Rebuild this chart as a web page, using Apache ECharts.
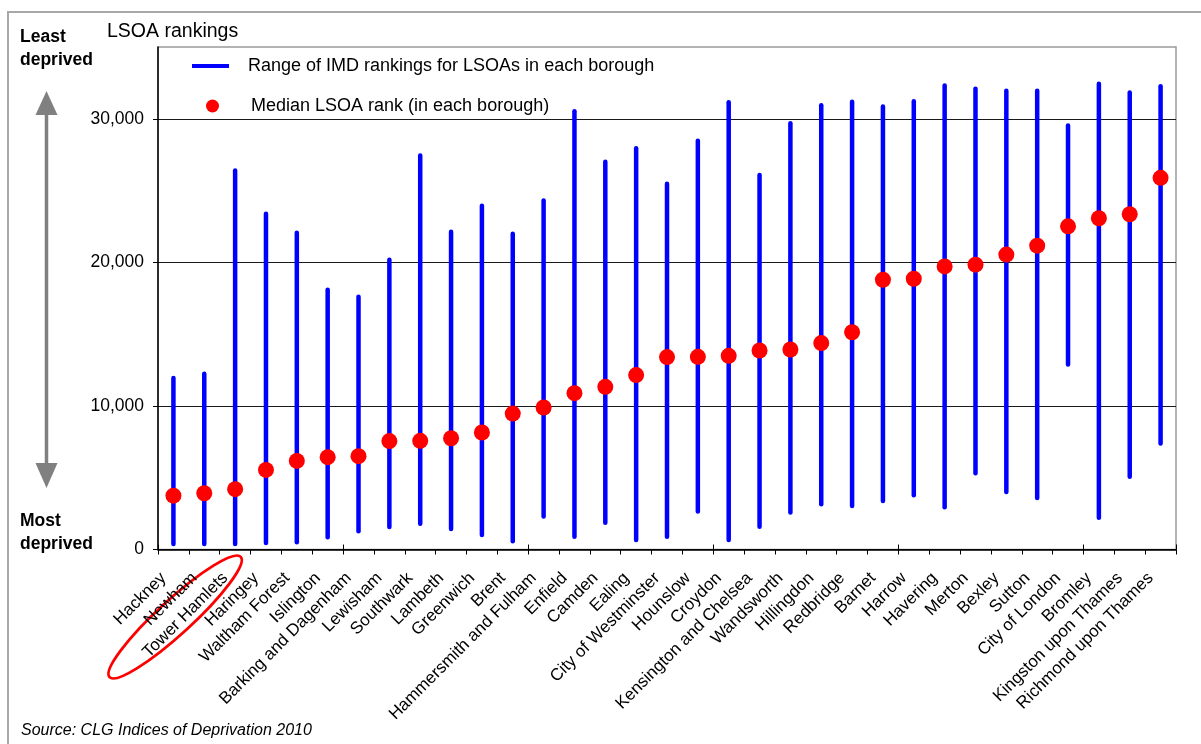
<!DOCTYPE html>
<html>
<head>
<meta charset="utf-8">
<title>LSOA rankings by London borough</title>
<script src="https://cdn.jsdelivr.net/npm/echarts@6/dist/echarts.min.js"></script>
<style>
  html, body { margin: 0; padding: 0; background: #ffffff; }
  #chart { width: 1201px; height: 744px; }
</style>
</head>
<body>
<div id="chart"></div>
<script>
// London boroughs, ordered by median LSOA rank
var boroughs = [
  'Hackney', 'Newham', 'Tower Hamlets', 'Haringey', 'Waltham Forest', 'Islington',
  'Barking and Dagenham', 'Lewisham', 'Southwark', 'Lambeth', 'Greenwich', 'Brent',
  'Hammersmith and Fulham', 'Enfield', 'Camden', 'Ealing', 'City of Westminster',
  'Hounslow', 'Croydon', 'Kensington and Chelsea', 'Wandsworth', 'Hillingdon',
  'Redbridge', 'Barnet', 'Harrow', 'Havering', 'Merton', 'Bexley', 'Sutton',
  'City of London', 'Bromley', 'Kingston upon Thames', 'Richmond upon Thames'
];

// Lowest (most deprived) LSOA rank in each borough
var rankMin = [
  380, 380, 380, 450, 500, 850,
  1270, 1570, 1800, 1430, 1010, 570,
  2290, 890, 1870, 660, 890,
  2640, 660, 1590, 2570, 3150,
  3030, 3380, 3780, 2940, 5310, 4010, 3590,
  12890, 2220, 5060, 7380
];

// Highest (least deprived) LSOA rank in each borough
var rankMax = [
  11940, 12240, 26390, 23380, 22070, 18100,
  17610, 20190, 27440, 22140, 23950, 22000,
  24300, 30530, 27000, 27950, 25470,
  28470, 31160, 26090, 29690, 30950,
  31180, 30860, 31230, 32320, 32090, 31950, 31950,
  29530, 32440, 31830, 32270
];

// Median LSOA rank in each borough
var rankMedian = [
  3750, 3920, 4200, 5540, 6170, 6430,
  6500, 7550, 7570, 7750, 8150, 9470,
  9890, 10890, 11330, 12150, 13400,
  13420, 13490, 13860, 13930, 14380,
  15130, 18790, 18860, 19720, 19840, 20540, 21160,
  22510, 23070, 23350, 25890
];

// Value-axis ticks
var yTicks = [0, 10000, 20000, 30000];

var rangeName = 'Range of IMD rankings for LSOAs in each borough';
var medianName = 'Median LSOA rank (in each borough)';

var FONT = '"Liberation Sans", Arial, sans-serif';
var GREY = '#808080';

var rangeData = boroughs.map(function (b, i) { return [i, rankMin[i], rankMax[i]]; });
var medianData = boroughs.map(function (b, i) { return [i, rankMedian[i]]; });

var chart = echarts.init(document.getElementById('chart'), null, { renderer: 'canvas' });

var option = {
  animation: false,
  backgroundColor: '#ffffff',
  textStyle: { fontFamily: FONT, color: '#000' },
  grid: {
    left: 158, top: 47, width: 1018, height: 502.5,
    show: true, borderColor: '#9a9a9a', borderWidth: 1.5,
    outerBoundsMode: 'none', containLabel: false
  },
  legend: [
    {
      data: [{ name: rangeName, icon: 'rect' }],
      left: 192, top: 57, padding: 0,
      itemWidth: 37, itemHeight: 4,
      textStyle: { fontFamily: FONT, fontSize: 18, color: '#000', padding: [0, 0, 0, 14] },
      selectedMode: false
    },
    {
      data: [{ name: medianName, icon: 'circle' }],
      left: 206, top: 97, padding: 0,
      itemWidth: 13, itemHeight: 13,
      textStyle: { fontFamily: FONT, fontSize: 18, color: '#000', padding: [0, 0, 0, 27] },
      selectedMode: false
    }
  ],
  xAxis: [
    {
      type: 'category',
      data: boroughs,
      position: 'bottom',
      boundaryGap: true,
      axisLine: { show: true, lineStyle: { color: '#000', width: 1.5 } },
      axisTick: { show: true, inside: false, length: 5, lineStyle: { color: '#000', width: 1 } },
      axisLabel: {
        show: true, interval: 0, rotate: 45, margin: 16,
        padding: [0, 14, 0, 0],
        fontFamily: FONT, fontSize: 17, color: '#000'
      },
      splitLine: { show: false }
    },
    {
      type: 'category',
      data: boroughs,
      position: 'bottom',
      boundaryGap: true,
      axisLine: { show: false },
      axisTick: { show: true, inside: true, length: 5, lineStyle: { color: '#000', width: 1 } },
      axisLabel: { show: false },
      splitLine: { show: false }
    }
  ],
  yAxis: {
    type: 'value',
    min: 0, max: 35000, interval: 10000,
    axisLine: { show: true, lineStyle: { color: '#000', width: 1.5 } },
    axisTick: { show: true, length: 5, lineStyle: { color: '#000' }, customValues: yTicks },
    axisLabel: {
      show: true, margin: 14, fontFamily: FONT, fontSize: 17.5, color: '#000',
      customValues: yTicks,
      formatter: function (v) { return v >= 35000 ? '' : Number(v).toLocaleString('en-US'); }
    },
    splitLine: { show: true, lineStyle: { color: '#1a1a1a', width: 1 } }
  },
  series: [
    {
      name: rangeName,
      type: 'custom',
      xAxisIndex: 0,
      data: rangeData,
      encode: { x: 0, y: [1, 2] },
      itemStyle: { color: '#0000FF' },
      z: 3,
      renderItem: function (params, api) {
        var lo = api.coord([api.value(0), api.value(1)]);
        var hi = api.coord([api.value(0), api.value(2)]);
        return {
          type: 'line',
          shape: { x1: lo[0], y1: lo[1], x2: hi[0], y2: hi[1] },
          style: { stroke: '#0000FF', lineWidth: 4.5, lineCap: 'round' }
        };
      }
    },
    {
      name: medianName,
      type: 'scatter',
      xAxisIndex: 0,
      data: medianData,
      symbol: 'circle',
      symbolSize: 16,
      itemStyle: { color: '#FF0000', opacity: 1 },
      z: 4
    }
  ],
  graphic: [
    // outer frame
    {
      type: 'rect', id: 'frame', silent: true,
      shape: { x: 8, y: 12, width: 1200, height: 800 },
      style: { fill: 'none', stroke: '#a8a8a8', lineWidth: 2 }
    },
    {
      type: 'text', id: 'ytitle', left: 107, top: 22,
      style: { text: 'LSOA rankings', font: '19.5px ' + FONT, fill: '#000' }
    },
    {
      type: 'text', id: 'least', left: 20, top: 26,
      style: { text: 'Least\ndeprived', font: 'bold 17.5px ' + FONT, fill: '#000', lineHeight: 23 }
    },
    {
      type: 'text', id: 'most', left: 20, top: 510,
      style: { text: 'Most\ndeprived', font: 'bold 17.5px ' + FONT, fill: '#000', lineHeight: 23 }
    },
    // double-headed arrow between the two captions
    {
      type: 'line', id: 'arrowShaft', silent: true,
      shape: { x1: 46.5, y1: 110, x2: 46.5, y2: 468 },
      style: { stroke: GREY, lineWidth: 3.5 }
    },
    {
      type: 'polygon', id: 'arrowUp', silent: true,
      shape: { points: [[46.5, 91], [35.5, 115], [57.5, 115]] },
      style: { fill: GREY }
    },
    {
      type: 'polygon', id: 'arrowDown', silent: true,
      shape: { points: [[46.5, 488], [35.5, 463], [57.5, 463]] },
      style: { fill: GREY }
    },
    {
      type: 'text', id: 'source', left: 21, top: 723,
      style: { text: 'Source: CLG Indices of Deprivation 2010', font: 'italic 16px ' + FONT, fill: '#000' }
    }
  ]
};

chart.setOption(option);

// Red ring highlighting the Tower Hamlets label
var thX = chart.convertToPixel({ xAxisIndex: 0 }, 'Tower Hamlets');
chart.setOption({
  graphic: [
    {
      type: 'ellipse', id: 'highlight', silent: true,
      x: thX - 60, y: 617,
      rotation: 42.5 * Math.PI / 180,
      shape: { cx: 0, cy: 0, rx: 89, ry: 17 },
      style: { fill: 'none', stroke: '#FF0000', lineWidth: 2.8 }
    }
  ]
});
</script>
</body>
</html>
